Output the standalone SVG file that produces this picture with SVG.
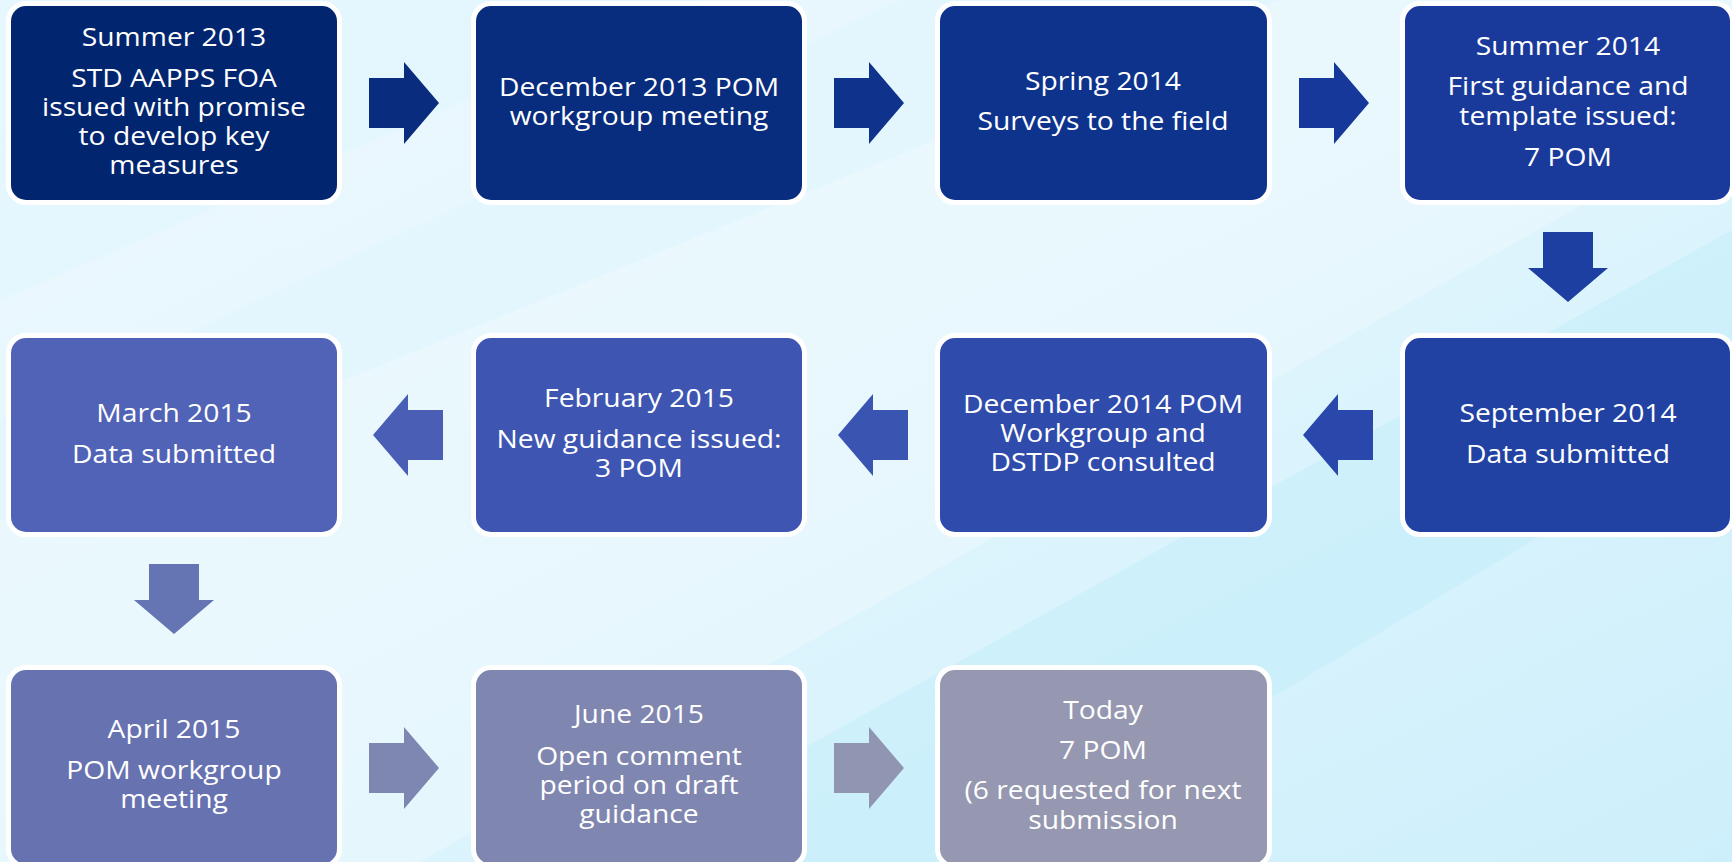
<svg xmlns="http://www.w3.org/2000/svg" width="1732" height="862" viewBox="0 0 1732 862">
  <defs>
    <linearGradient id="bg" x1="0" y1="0" x2="1" y2="1">
      <stop offset="0" stop-color="#e6f7fe"/>
      <stop offset="0.45" stop-color="#e2f6fd"/>
      <stop offset="1" stop-color="#cdeffb"/>
    </linearGradient>
    <path id="arrowR" d="M0,-25 H35 V-41 L70,0 L35,41 V25 H0 Z"/>
    <path id="arrowL" d="M0,0 L35,-41 V-25 H70 V25 H35 V41 Z"/>
    <path id="arrowD" d="M-25,0 H25 V36 H40 L0,70 L-40,36 H-25 Z"/>
  </defs>
  <style>
    .box { stroke: #ffffff; stroke-width: 10; paint-order: stroke; }
    .lbl { font-family: "Open Sans", "Liberation Sans", sans-serif; font-size: 25px; fill: #ffffff; text-anchor: middle; }
  </style>

  <!-- backdrop with soft diagonal light bands -->
  <rect x="0" y="0" width="1732" height="862" fill="url(#bg)"/>
  <polygon points="0,862 0,520 1280,0 1732,0 1732,120 420,862" fill="#ffffff" opacity="0.25"/>
  <polygon points="600,862 1732,230 1732,420 1000,862" fill="#bfeefb" opacity="0.45"/>
  <polygon points="0,300 700,0 900,0 0,420" fill="#ffffff" opacity="0.2"/>

  <!-- connectors -->
  <g id="connectors">
    <use href="#arrowR" x="369" y="103" fill="#0a2c7e"/>
    <use href="#arrowR" x="834" y="103" fill="#0f338d"/>
    <use href="#arrowR" x="1299" y="103" fill="#15389a"/>
    <use href="#arrowD" x="1568" y="232" fill="#1e3fa2"/>
    <use href="#arrowL" x="1303" y="435" fill="#2a48ab"/>
    <use href="#arrowL" x="838" y="435" fill="#3a54b2"/>
    <use href="#arrowL" x="373" y="435" fill="#4a5eb5"/>
    <use href="#arrowD" x="174" y="564" fill="#6574b3"/>
    <use href="#arrowR" x="369" y="768" fill="#7e86b2"/>
    <use href="#arrowR" x="834" y="768" fill="#9095b2"/>
  </g>

  <!-- row 1 -->
  <g id="summer2013">
    <rect class="box" x="11" y="6" width="326" height="194" rx="15" fill="#02256f"/>
    <g transform="translate(174 0) scale(1.13 1)">
      <text class="lbl" x="0" y="46">Summer 2013</text>
      <text class="lbl" x="0" y="87">STD AAPPS FOA</text>
      <text class="lbl" x="0" y="116">issued with promise</text>
      <text class="lbl" x="0" y="145">to develop key</text>
      <text class="lbl" x="0" y="174">measures</text>
    </g>
  </g>
  <g id="dec2013">
    <rect class="box" x="476" y="6" width="326" height="194" rx="15" fill="#082c7e"/>
    <g transform="translate(639 0) scale(1.13 1)">
      <text class="lbl" x="0" y="96">December 2013 POM</text>
      <text class="lbl" x="0" y="125">workgroup meeting</text>
    </g>
  </g>
  <g id="spring2014">
    <rect class="box" x="940" y="6" width="327" height="194" rx="15" fill="#0e338d"/>
    <g transform="translate(1103 0) scale(1.13 1)">
      <text class="lbl" x="0" y="90">Spring 2014</text>
      <text class="lbl" x="0" y="130">Surveys to the field</text>
    </g>
  </g>
  <g id="summer2014">
    <rect class="box" x="1405" y="6" width="325" height="194" rx="15" fill="#1a3a9b"/>
    <g transform="translate(1568 0) scale(1.13 1)">
      <text class="lbl" x="0" y="55">Summer 2014</text>
      <text class="lbl" x="0" y="95">First guidance and</text>
      <text class="lbl" x="0" y="125">template issued:</text>
      <text class="lbl" x="0" y="166">7 POM</text>
    </g>
  </g>

  <!-- row 2 -->
  <g id="sep2014">
    <rect class="box" x="1405" y="338" width="325" height="194" rx="15" fill="#2242a3"/>
    <g transform="translate(1568 0) scale(1.13 1)">
      <text class="lbl" x="0" y="422">September 2014</text>
      <text class="lbl" x="0" y="463">Data submitted</text>
    </g>
  </g>
  <g id="dec2014">
    <rect class="box" x="940" y="338" width="327" height="194" rx="15" fill="#2f4bac"/>
    <g transform="translate(1103 0) scale(1.13 1)">
      <text class="lbl" x="0" y="413">December 2014 POM</text>
      <text class="lbl" x="0" y="442">Workgroup and</text>
      <text class="lbl" x="0" y="471">DSTDP consulted</text>
    </g>
  </g>
  <g id="feb2015">
    <rect class="box" x="476" y="338" width="326" height="194" rx="15" fill="#3e56b2"/>
    <g transform="translate(639 0) scale(1.13 1)">
      <text class="lbl" x="0" y="407">February 2015</text>
      <text class="lbl" x="0" y="448">New guidance issued:</text>
      <text class="lbl" x="0" y="477">3 POM</text>
    </g>
  </g>
  <g id="mar2015">
    <rect class="box" x="11" y="338" width="326" height="194" rx="15" fill="#5163b6"/>
    <g transform="translate(174 0) scale(1.13 1)">
      <text class="lbl" x="0" y="422">March 2015</text>
      <text class="lbl" x="0" y="463">Data submitted</text>
    </g>
  </g>

  <!-- row 3 -->
  <g id="apr2015">
    <rect class="box" x="11" y="670" width="326" height="194" rx="15" fill="#6772b1"/>
    <g transform="translate(174 0) scale(1.13 1)">
      <text class="lbl" x="0" y="738">April 2015</text>
      <text class="lbl" x="0" y="779">POM workgroup</text>
      <text class="lbl" x="0" y="808">meeting</text>
    </g>
  </g>
  <g id="jun2015">
    <rect class="box" x="476" y="670" width="326" height="194" rx="15" fill="#7f86b0"/>
    <g transform="translate(639 0) scale(1.13 1)">
      <text class="lbl" x="0" y="723">June 2015</text>
      <text class="lbl" x="0" y="765">Open comment</text>
      <text class="lbl" x="0" y="794">period on draft</text>
      <text class="lbl" x="0" y="823">guidance</text>
    </g>
  </g>
  <g id="today">
    <rect class="box" x="940" y="670" width="327" height="194" rx="15" fill="#9598b0"/>
    <g transform="translate(1103 0) scale(1.13 1)">
      <text class="lbl" x="0" y="719">Today</text>
      <text class="lbl" x="0" y="759">7 POM</text>
      <text class="lbl" x="0" y="799">(6 requested for next</text>
      <text class="lbl" x="0" y="829">submission</text>
    </g>
  </g>
</svg>
